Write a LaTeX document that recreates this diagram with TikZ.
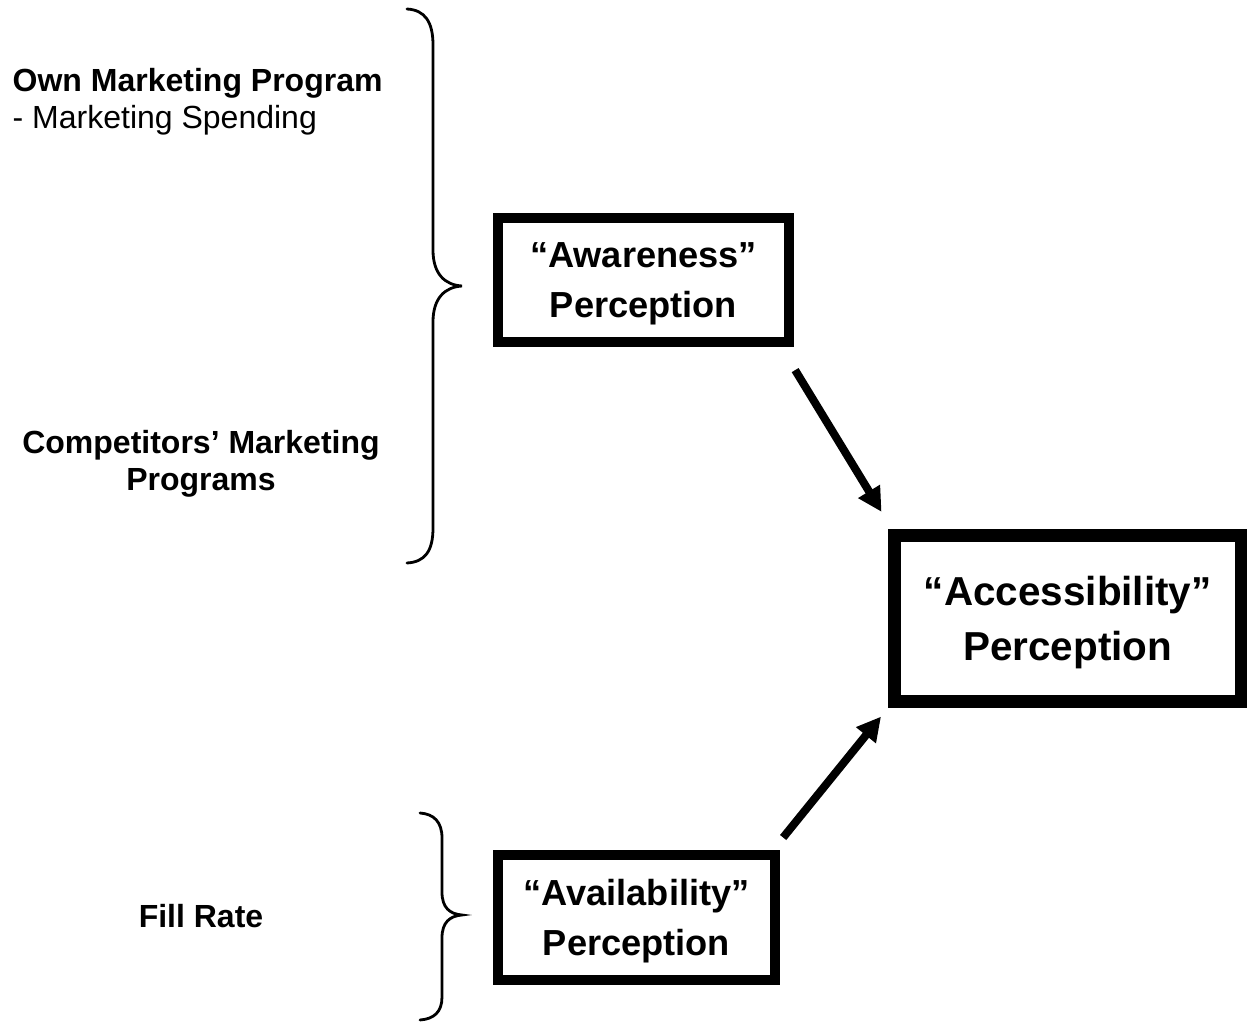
\documentclass[tikz,border=0pt]{standalone}
\usepackage{fontspec}
\setmainfont{Liberation Sans}
\usetikzlibrary{arrows.meta}

\begin{document}
\begin{tikzpicture}[x=0.01cm, y=-0.01cm,
    box/.style={draw, line width=0.10cm, align=center, inner sep=0pt, text depth=0pt,
        font=\fontsize{10.3}{14.2}\selectfont\bfseries},
    lbl/.style={align=center, inner sep=0pt, font=\fontsize{9.1}{10.4}\selectfont\bfseries},
    brace/.style={line width=0.028cm, line cap=round},
    arr/.style={line width=0.08cm, -{Triangle[length=0.24cm, width=0.24cm]}}]
    \useasboundingbox (0,0) rectangle (1247,1024);

    % drivers
    \node[lbl, anchor=west, align=left] (own) at (12,102) {Own Marketing Program\\{\mdseries - Marketing Spending}};
    \node[lbl] (comp) at (201,464) {Competitors’ Marketing\\Programs};
    \node[lbl] (fill) at (201,916) {Fill Rate};

    % braces
    \draw[brace] (407,9) .. controls (425,10) and (433,22) .. (433,45) -- (433,250)
        .. controls (433,274) and (445,285) .. (462,286)
        .. controls (445,287) and (433,298) .. (433,322) -- (433,528)
        .. controls (433,551) and (425,562) .. (407,563);
    \draw[brace] (420,813) .. controls (434,814) and (442,822) .. (442,838) -- (442,892)
        .. controls (442,908) and (450,914) .. (462,915)
        .. controls (450,916) and (442,922) .. (442,938) -- (442,997)
        .. controls (442,1012) and (434,1019) .. (420,1020);

    % perceptions
    \node[box, text depth=-0.22cm, minimum width=2.91cm, minimum height=1.24cm] (aware) at (643.5,280) {“Awareness”\\Perception};
    \node[box, minimum width=2.77cm, minimum height=1.25cm] (avail) at (636.5,917.5) {“Availability”\\Perception};
    \node[box, line width=0.13cm, minimum width=3.465cm, minimum height=1.66cm,
        font=\fontsize{11.5}{15.6}\selectfont\bfseries] (access) at (1067.8,618.5) {“Accessibility”\\Perception};

    \draw[arr, shorten <=0.27cm, shorten >=0.2cm] ([xshift=-0.13cm]aware.south east) -- ([xshift=0.04cm]access.north west);
    \draw[arr, shorten <=0.16cm, shorten >=0.11cm] ([xshift=-0.07cm]avail.north east) -- (access.south west);
\end{tikzpicture}
\end{document}
